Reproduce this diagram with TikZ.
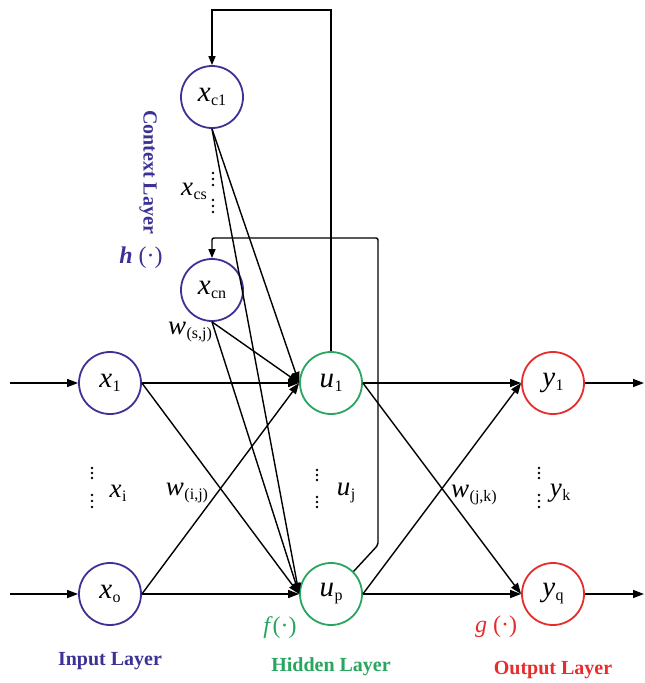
\documentclass[tikz,border=0pt]{standalone}
\usepackage{fontspec}
\setmainfont{Liberation Serif}
\usetikzlibrary{arrows.meta}
\definecolor{cblue}{RGB}{60,50,150}
\definecolor{cgreen}{RGB}{40,165,95}
\definecolor{cred}{RGB}{230,45,45}
\newcommand\vsub[2]{\textit{#1}\kern0.5pt\raisebox{-4pt}{\fontsize{16}{16}\selectfont #2}}
\begin{document}
\begin{tikzpicture}[x=1pt,y=-1pt,
 neuron/.style={circle, draw, line width=1.8pt, minimum size=62pt, inner sep=0pt, font=\fontsize{29}{29}\selectfont},
 conn/.style={line width=1.4pt, -{Triangle[length=11pt,width=8pt]}},
 fbconn/.style={line width=1.4pt, -{Triangle[length=9pt,width=7pt]}},
 lbl/.style={font=\fontsize{27}{27}\selectfont, inner sep=0pt},
 layer/.style={font=\fontsize{20}{20}\selectfont\bfseries, inner sep=0pt},
 fn/.style={font=\fontsize{24}{24}\selectfont, inner sep=0pt}]
\useasboundingbox (0,0) rectangle (645,683);
% nodes
\node[neuron, cblue] (xc1) at (212,97) {\color{black}\vsub{x}{c1}};
\node[neuron, cblue] (xcn) at (212,290) {\color{black}\vsub{x}{cn}};
\node[neuron, cblue] (x1) at (110,383) {\color{black}\vsub{x}{1}};
\node[neuron, cblue] (xo) at (110,594) {\color{black}\vsub{x}{o}};
\node[neuron, cgreen] (u1) at (331,383) {\color{black}\vsub{u}{1}};
\node[neuron, cgreen] (up) at (331,594) {\color{black}\vsub{u}{p}};
\node[neuron, cred] (y1) at (553,383) {\color{black}\vsub{y}{1}};
\node[neuron, cred] (yq) at (553,594) {\color{black}\vsub{y}{q}};
% free ends
\coordinate (in1) at (10,383);
\coordinate (ino) at (10,594);
\coordinate (out1) at (644,383);
\coordinate (outq) at (644,594);
\coordinate (fa) at (331,10);
\coordinate (fb) at (212,10);
\coordinate (fc) at (378,545);
\coordinate (fd) at (378,238);
\coordinate (fe) at (212,238);
% input / output arrows
\draw[conn] (in1) -- (x1.west);
\draw[conn] (ino) -- (xo.west);
\draw[conn] (y1.east) -- (out1);
\draw[conn] (yq.east) -- (outq);
% input -> hidden
\draw[conn] (x1.east) -- (u1.west);
\draw[conn] (x1.east) -- (up.west);
\draw[conn] (xo.east) -- (u1.west);
\draw[conn] (xo.east) -- (up.west);
% context -> hidden
\draw[conn] (xc1.south) -- (u1.west);
\draw[conn] (xc1.south) -- (up.west);
\draw[conn] (xcn.south) -- (u1.west);
\draw[conn] (xcn.south) -- (up.west);
% hidden -> output
\draw[conn] (u1.east) -- (y1.west);
\draw[conn] (u1.east) -- (yq.west);
\draw[conn] (up.east) -- (y1.west);
\draw[conn] (up.east) -- (yq.west);
% feedback
\draw[fbconn] (u1.north) -- (fa) -- (fb) -- (xc1.north);
\draw[fbconn, rounded corners=2pt] (up.45) -- (fc) -- (fd) -- (fe) -- (xcn.north);
% labels
\node[layer, cblue, rotate=-90] (ctx) at (148,172) {Context Layer};
\node[fn, cblue] (hfn) at (141,258) {\textbf{\textit{h}} (·)};
\node[lbl] (xcs) at (194,191) {\vsub{x}{cs}};
\node[lbl] (wsj) at (190,332) {\vsub{w}{(s,j)}};
\node[lbl] (xi) at (118,493) {\vsub{x}{i}};
\node[lbl] (wij) at (187,493) {\vsub{w}{(i,j)}};
\node[lbl] (uj) at (346,493) {\vsub{u}{j}};
\node[lbl] (wjk) at (474,495) {\vsub{w}{(j,k)}};
\node[lbl] (yk) at (560,493) {\vsub{y}{k}};
\node[fn, cgreen] (ffn) at (280,628) {\textit{f}(·)};
\node[fn, cred] (gfn) at (496,627) {\textit{g} (·)};
\node[layer, cblue] (inl) at (110,661) {Input Layer};
\node[layer, cgreen] (hidl) at (331,667) {Hidden Layer};
\node[layer, cred] (outl) at (553,670) {Output Layer};
% dots
\foreach \px/\py in {213/173,213/179,213/185,213/200,213/206,213/212,
  92/468,92/473,92/478,92/495,92/501,92/507,
  317/470,317/475,317/480,317/497,317/502,317/507,
  539/468,539/473,539/478,539/495,539/501,539/507}
  \fill (\px,\py) circle (1.3pt);
\end{tikzpicture}
\end{document}
